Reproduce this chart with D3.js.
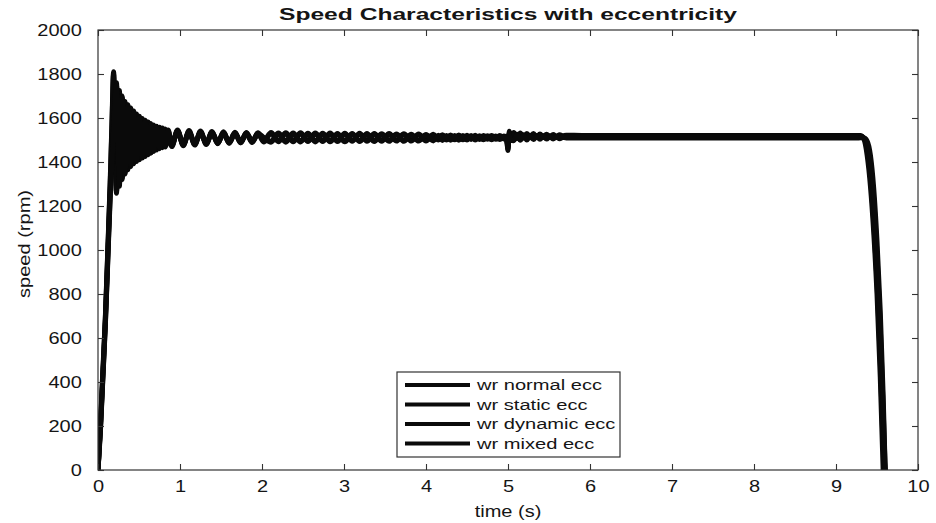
<!DOCTYPE html>
<html>
<head>
<meta charset="utf-8">
<script src="https://cdn.jsdelivr.net/npm/d3@7"></script>
<style>
  html, body { margin: 0; padding: 0; background: #fff; }
  svg { display: block; }
  text { font-family: "Liberation Sans", Arial, Helvetica, sans-serif; fill: #151515; }
</style>
</head>
<body>
<svg id="chart" width="936" height="523"></svg>
<script>
// ---- data: rotor speed (rpm) against time (s), shared time grid ----
const timeS = [
  0, 0.03, 0.06, 0.09, 0.12, 0.15, 0.17,
  0.19, 0.225, 0.26, 0.295, 0.33, 0.365, 0.40, 0.435, 0.47, 0.505, 0.54, 0.575, 0.61, 0.645, 0.68, 0.715, 0.75, 0.785, 0.82, 0.855,
  0.90, 0.97, 1.04, 1.11, 1.18, 1.25, 1.32, 1.39, 1.46, 1.53, 1.60, 1.67, 1.74, 1.81, 1.88, 1.95, 2.02,
  2.11, 2.20, 2.29, 2.38, 2.47, 2.56, 2.65, 2.74, 2.83, 2.92, 3.01, 3.10, 3.19, 3.28, 3.37, 3.46, 3.55, 3.64, 3.73, 3.82, 3.91, 4.00, 4.09,
  4.15, 4.20, 4.25, 4.30, 4.35, 4.40, 4.45, 4.50, 4.55, 4.60, 4.65, 4.70, 4.75, 4.80, 4.85, 4.90, 4.95,
  4.98, 5.00, 5.015, 5.03,
  5.07, 5.11, 5.15, 5.19, 5.23, 5.27, 5.31, 5.35, 5.39, 5.43, 5.47, 5.51, 5.55, 5.59, 5.63, 5.67, 5.71,
  5.90, 6.50, 7.50, 8.50, 9.25,
  9.30, 9.34, 9.38, 9.42, 9.46, 9.50, 9.54, 9.575, 9.60
];

const wrNormal = [
  0, 210, 460, 700, 1010, 1330, 1580,
  1810, 1258, 1725, 1320, 1675, 1365, 1645, 1392, 1618, 1410, 1598, 1425, 1582, 1440, 1568, 1455, 1558, 1465, 1550, 1512,
  1474, 1546, 1478, 1543, 1481, 1541, 1484, 1539, 1487, 1537, 1489, 1535, 1491, 1534, 1493, 1533, 1495,
  1534, 1496, 1533, 1496, 1533, 1497, 1532, 1497, 1532, 1497, 1531, 1498, 1531, 1498, 1530, 1498, 1529, 1499, 1528, 1499, 1527, 1500, 1526,
  1504, 1524, 1504, 1523, 1505, 1523, 1505, 1522, 1506, 1522, 1506, 1521, 1507, 1521, 1507, 1520, 1508,
  1514, 1452, 1540, 1500,
  1534, 1510, 1532, 1512, 1530, 1513, 1529, 1514, 1527, 1515, 1526, 1516, 1525, 1517, 1524, 1519, 1522,
  1521, 1521, 1521, 1521, 1521,
  1520, 1505, 1430, 1290, 1080, 800, 420, 0, null
];

const wrStatic = [
  0, 200, 445, 690, 995, 1310, 1560,
  1800, 1266, 1716, 1328, 1668, 1372, 1638, 1398, 1612, 1415, 1592, 1430, 1577, 1445, 1563, 1459, 1553, 1469, 1545, 1508,
  1470, 1542, 1474, 1539, 1477, 1537, 1480, 1535, 1483, 1533, 1485, 1531, 1487, 1530, 1489, 1529, 1491,
  1530, 1492, 1529, 1492, 1529, 1493, 1528, 1493, 1528, 1493, 1527, 1494, 1527, 1494, 1526, 1494, 1525, 1495, 1524, 1495, 1523, 1496, 1522,
  1500, 1520, 1500, 1519, 1501, 1519, 1501, 1518, 1502, 1518, 1502, 1517, 1503, 1517, 1503, 1516, 1504,
  1510, 1460, 1532, 1498,
  1528, 1507, 1527, 1509, 1525, 1510, 1524, 1511, 1523, 1512, 1522, 1513, 1521, 1514, 1520, 1515, 1518,
  1517, 1517, 1517, 1517, 1517,
  1517, 1508, 1455, 1330, 1130, 860, 500, 120, 0
];

const wrDynamic = [
  0, 190, 430, 670, 970, 1270, 1420,
  1560, 1760, 1290, 1700, 1345, 1660, 1380, 1632, 1402, 1608, 1418, 1590, 1433, 1575, 1448, 1563, 1460, 1554, 1468, 1546,
  1482, 1540, 1482, 1538, 1484, 1536, 1486, 1535, 1488, 1534, 1490, 1533, 1492, 1532, 1494, 1531, 1512,
  1494, 1532, 1494, 1532, 1495, 1531, 1495, 1531, 1496, 1530, 1496, 1530, 1497, 1529, 1497, 1528, 1498, 1527, 1498, 1526, 1499, 1525, 1500,
  1522, 1502, 1521, 1503, 1521, 1503, 1520, 1504, 1520, 1504, 1519, 1505, 1519, 1505, 1518, 1506, 1518,
  1512, 1470, 1528, 1504,
  1500, 1526, 1502, 1524, 1504, 1522, 1506, 1520, 1507, 1519, 1508, 1518, 1509, 1517, 1510, 1516, 1513,
  1513, 1513, 1513, 1513, 1513,
  1514, 1510, 1485, 1400, 1230, 980, 650, 280, 0
];

const wrMixed = [
  0, 180, 420, 660, 955, 1250, 1390,
  1540, 1748, 1298, 1692, 1352, 1652, 1386, 1625, 1407, 1601, 1423, 1584, 1438, 1569, 1452, 1557, 1464, 1549, 1472, 1541,
  1478, 1536, 1478, 1534, 1480, 1532, 1482, 1531, 1484, 1530, 1486, 1529, 1488, 1528, 1490, 1527, 1508,
  1490, 1528, 1490, 1528, 1491, 1527, 1491, 1527, 1492, 1526, 1492, 1526, 1493, 1525, 1493, 1524, 1494, 1523, 1494, 1522, 1495, 1521, 1496,
  1518, 1498, 1517, 1499, 1517, 1499, 1516, 1500, 1516, 1500, 1515, 1501, 1515, 1501, 1514, 1502, 1514,
  1508, 1475, 1522, 1502,
  1497, 1522, 1499, 1520, 1500, 1518, 1502, 1516, 1503, 1515, 1504, 1514, 1505, 1513, 1506, 1512, 1509,
  1509, 1509, 1509, 1509, 1509,
  1510, 1509, 1495, 1430, 1280, 1040, 720, 340, 0
];

const seriesNames = ["wr normal ecc", "wr static ecc", "wr dynamic ecc", "wr mixed ecc"];
const xTicks = [0, 1, 2, 3, 4, 5, 6, 7, 8, 9, 10];
const yTicks = [0, 200, 400, 600, 800, 1000, 1200, 1400, 1600, 1800, 2000];
const chartTitle = "Speed Characteristics with eccentricity";
const xLabel = "time (s)";
const yLabel = "speed (rpm)";

// ---- layout ----
const plot = { left: 98, right: 918, top: 30, bottom: 470 };
const svg = d3.select("#chart");

const x = d3.scaleLinear().domain([0, 10]).range([plot.left, plot.right]);
const y = d3.scaleLinear().domain([0, 2000]).range([plot.bottom, plot.top]);

svg.append("defs").append("clipPath").attr("id", "plotClip")
  .append("rect")
  .attr("x", plot.left).attr("y", plot.top)
  .attr("width", plot.right - plot.left).attr("height", plot.bottom - plot.top);

// ---- speed traces ----
const series = [wrNormal, wrStatic, wrDynamic, wrMixed].map((vals, i) => ({
  name: seriesNames[i],
  points: timeS.map((t, j) => [t, vals[j]])
}));

const line = d3.line()
  .defined(d => d[1] !== null)
  .x(d => x(d[0]))
  .y(d => y(d[1]))
  .curve(d3.curveMonotoneX);

const traces = svg.append("g").attr("clip-path", "url(#plotClip)");
traces.selectAll("path")
  .data(series)
  .join("path")
  .attr("d", d => line(d.points))
  .attr("fill", "none")
  .attr("stroke", "#0a0a0a")
  .attr("stroke-width", 5)
  .attr("stroke-linejoin", "round")
  .attr("stroke-linecap", "round");

// ---- axes (inward ticks on all four sides) ----
const axisColor = "#333";
const tickLen = 6;

const gx = svg.append("g").attr("transform", `translate(0,${plot.bottom})`)
  .call(d3.axisBottom(x).tickValues(xTicks).tickSize(-tickLen).tickPadding(11).tickFormat(d3.format("d")));
const gy = svg.append("g").attr("transform", `translate(${plot.left},0)`)
  .call(d3.axisLeft(y).tickValues(yTicks).tickSize(-tickLen).tickPadding(13).tickFormat(d3.format("d")));
const gxTop = svg.append("g").attr("transform", `translate(0,${plot.top})`)
  .call(d3.axisTop(x).tickValues(xTicks).tickSize(-tickLen).tickFormat(""));
const gyRight = svg.append("g").attr("transform", `translate(${plot.right},0)`)
  .call(d3.axisRight(y).tickValues(yTicks).tickSize(-tickLen).tickFormat(""));

[gx, gy, gxTop, gyRight].forEach(g => {
  g.select(".domain").remove();
  g.selectAll(".tick line").attr("stroke", axisColor).attr("stroke-width", 1.1);
  g.selectAll(".tick text")
    .attr("font-family", "Liberation Sans, Arial, sans-serif")
    .attr("font-size", 16)
    .attr("fill", "#151515")
    .attr("transform", "scale(1.25,1)");
});

svg.append("rect")
  .attr("x", plot.left).attr("y", plot.top)
  .attr("width", plot.right - plot.left).attr("height", plot.bottom - plot.top)
  .attr("fill", "none").attr("stroke", axisColor).attr("stroke-width", 1.2);

// ---- titles ----
svg.append("text")
  .attr("x", 508).attr("y", 20)
  .attr("text-anchor", "middle")
  .attr("font-size", 17).attr("font-weight", "bold")
  .attr("textLength", 458).attr("lengthAdjust", "spacingAndGlyphs")
  .text(chartTitle);

svg.append("text")
  .attr("transform", "translate(508,517) scale(1.25,1)")
  .attr("text-anchor", "middle")
  .attr("font-size", 16)
  .text(xLabel);

svg.append("text")
  .attr("transform", "translate(30,244) rotate(-90)")
  .attr("text-anchor", "middle")
  .attr("font-size", 16)
  .attr("textLength", 108).attr("lengthAdjust", "spacingAndGlyphs")
  .text(yLabel);

// ---- legend ----
const legend = svg.append("g");
legend.append("rect")
  .attr("x", 397).attr("y", 372).attr("width", 223).attr("height", 85)
  .attr("fill", "#fff").attr("stroke", axisColor).attr("stroke-width", 1.2);

const rowY = d3.scalePoint().domain(seriesNames).range([385, 443.5]);
const rows = legend.selectAll("g.row").data(seriesNames).join("g")
  .attr("class", "row")
  .attr("transform", d => `translate(0,${rowY(d)})`);
rows.append("line")
  .attr("x1", 405).attr("x2", 470).attr("y1", 0).attr("y2", 0)
  .attr("stroke", "#0a0a0a").attr("stroke-width", 4.2);
rows.append("text")
  .attr("transform", "translate(477,5) scale(1.34,1)")
  .attr("font-size", 15)
  .text(d => d);
</script>
</body>
</html>
